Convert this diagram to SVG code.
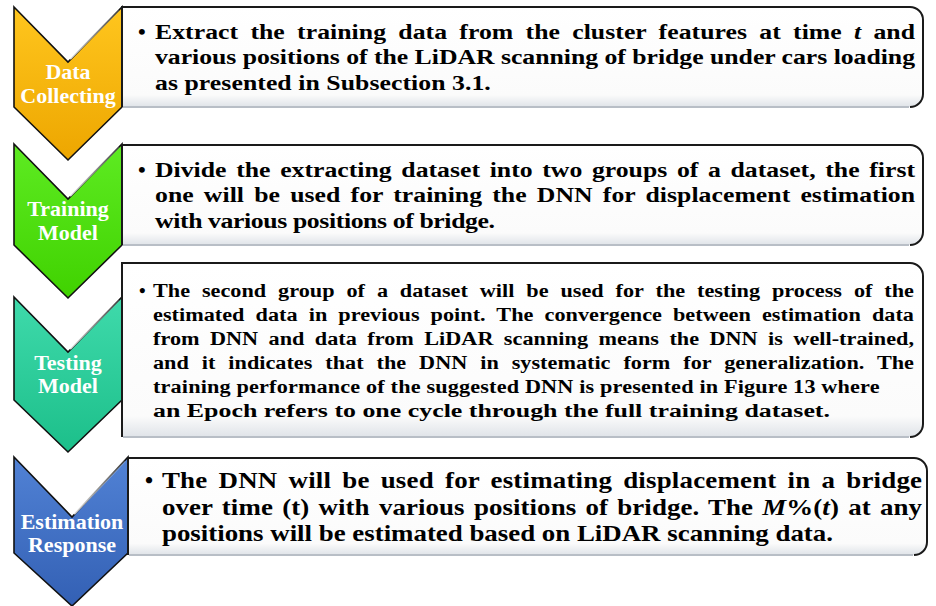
<svg xmlns="http://www.w3.org/2000/svg" width="936" height="606" viewBox="0 0 936 606">
<defs>
<linearGradient id="gY" x1="0" y1="0" x2="0" y2="1"><stop offset="0" stop-color="#FFC61E"/><stop offset="1" stop-color="#EDA600"/></linearGradient>
<linearGradient id="gG" x1="0" y1="0" x2="0" y2="1"><stop offset="0" stop-color="#5EEB22"/><stop offset="1" stop-color="#40D200"/></linearGradient>
<linearGradient id="gT" x1="0" y1="0" x2="0" y2="1"><stop offset="0" stop-color="#3FDAAB"/><stop offset="1" stop-color="#1CBF8A"/></linearGradient>
<linearGradient id="gB" x1="0" y1="0" x2="0" y2="1"><stop offset="0" stop-color="#5182D5"/><stop offset="1" stop-color="#3360B4"/></linearGradient>
<linearGradient id="gBox" x1="0" y1="0" x2="0" y2="1"><stop offset="0" stop-color="#ffffff"/><stop offset="0.88" stop-color="#fbfbfb"/><stop offset="1" stop-color="#dfe3e8"/></linearGradient>
<linearGradient id="gGloss" x1="0" y1="1" x2="1" y2="0"><stop offset="0" stop-color="#ffffff" stop-opacity="0.85"/><stop offset="1" stop-color="#ffffff" stop-opacity="0.2"/></linearGradient>
</defs>
<style>
.chev{stroke:#111;stroke-width:1.6;stroke-linejoin:miter}
.gloss{fill:none;stroke:url(#gGloss);stroke-width:2.2}
.lbl{font-family:"Liberation Serif","Times New Roman",serif;font-weight:bold;font-size:22px;fill:#ffffff;text-anchor:middle}
.boxfill{fill:url(#gBox)}
.boxedge{fill:none;stroke:#1a1a1a;stroke-width:2}
.boxbot{stroke:#b8bec6;stroke-width:2}
.t{font-family:"Liberation Serif","Times New Roman",serif;font-weight:bold;fill:#000}
.b1{font-size:22px}
.b3{font-size:19px}
.b4{font-size:23px}
.it{font-style:italic}
</style>

<g id="connectors"></g>

<g id="step1">
<polygon class="chev" fill="url(#gY)" points="14,7 68,62 122,7 122,107 68,160 14,107"/>
<polyline class="gloss" points="70,59 119,10"/>
<text class="lbl" x="68" y="79">Data</text>
<text class="lbl" x="68" y="103">Collecting</text>
</g>
<g id="box1">
<path class="boxfill" d="M122,7 H910 A13,13 0 0 1 923,20 V94 A13,13 0 0 1 910,107 H122 Z"/>
<path class="boxedge" d="M122,107 V7 H910 A13,13 0 0 1 923,20 V94 A13,13 0 0 1 910,107"/>
<line class="boxbot" x1="123" y1="107" x2="909" y2="107"/>
<text class="t b1" x="138" y="39">•</text>
<g transform="translate(155,0) scale(1.17,1)">
<text class="t b1" x="0" y="39" word-spacing="4.9" textLength="649.6" lengthAdjust="spacing">Extract the training data from the cluster features at time <tspan class="it">t</tspan> and</text>
<text class="t b1" x="0" y="64.5" textLength="649.6" lengthAdjust="spacing">various positions of the LiDAR scanning of bridge under cars loading</text>
<text class="t b1" x="0" y="90" textLength="287" lengthAdjust="spacing">as presented in Subsection 3.1.</text>
</g>
</g>

<g id="step2">
<polygon class="chev" fill="url(#gG)" points="14,144 68,199 122,144 122,245 68,298 14,245"/>
<polyline class="gloss" points="70,196 119,147"/>
<text class="lbl" x="68" y="216">Training</text>
<text class="lbl" x="68" y="240">Model</text>
</g>
<g id="box2">
<path class="boxfill" d="M122,145 H910 A13,13 0 0 1 923,158 V232 A13,13 0 0 1 910,245 H122 Z"/>
<path class="boxedge" d="M122,245 V145 H910 A13,13 0 0 1 923,158 V232 A13,13 0 0 1 910,245"/>
<line class="boxbot" x1="123" y1="245" x2="909" y2="245"/>
<text class="t b1" x="138" y="177">•</text>
<g transform="translate(155,0) scale(1.17,1)">
<text class="t b1" x="0" y="177" word-spacing="2.7" textLength="649.6" lengthAdjust="spacing">Divide the extracting dataset into two groups of a dataset, the first</text>
<text class="t b1" x="0" y="202.5" word-spacing="3.2" textLength="649.6" lengthAdjust="spacing">one will be used for training the DNN for displacement estimation</text>
<text class="t b1" x="0" y="228" textLength="290.6" lengthAdjust="spacing">with various positions of bridge.</text>
</g>
</g>

<g id="step3">
<polygon class="chev" fill="url(#gT)" points="14,297 68,352 122,297 122,400 68,452 14,400"/>
<polyline class="gloss" points="70,349 119,300"/>
<text class="lbl" x="68" y="370">Testing</text>
<text class="lbl" x="68" y="393">Model</text>
</g>
<g id="box3">
<path class="boxfill" d="M122,263 H910 A13,13 0 0 1 923,276 V424 A13,13 0 0 1 910,437 H122 Z"/>
<path class="boxedge" d="M122,437 V263 H910 A13,13 0 0 1 923,276 V424 A13,13 0 0 1 910,437"/>
<line class="boxbot" x1="123" y1="437" x2="909" y2="437"/>
<text class="t b3" x="139" y="297">•</text>
<g transform="translate(153,0) scale(1.17,1)">
<text class="t b3" x="0" y="297" word-spacing="5.4" textLength="650.4" lengthAdjust="spacing">The second group of a dataset will be used for the testing process of the</text>
<text class="t b3" x="0" y="321" word-spacing="4.7" textLength="650.4" lengthAdjust="spacing">estimated data in previous point. The convergence between estimation data</text>
<text class="t b3" x="0" y="345" word-spacing="4.1" textLength="650.4" lengthAdjust="spacing">from DNN and data from LiDAR scanning means the DNN is well-trained,</text>
<text class="t b3" x="0" y="369" word-spacing="6.3" textLength="650.4" lengthAdjust="spacing">and it indicates that the DNN in systematic form for generalization. The</text>
<text class="t b3" x="0" y="393" textLength="621" lengthAdjust="spacing">training performance of the suggested DNN is presented in Figure 13 where</text>
<text class="t b3" x="0" y="417" textLength="578.6" lengthAdjust="spacingAndGlyphs">an Epoch refers to one cycle through the full training dataset.</text>
</g>
</g>

<g id="step4">
<polygon class="chev" fill="url(#gB)" points="14,457 72,517 128,457 128,553 72,606 14,553"/>
<polyline class="gloss" points="74,514 125,461"/>
<text class="lbl" x="72" y="529">Estimation</text>
<text class="lbl" x="72" y="552">Response</text>
</g>
<g id="box4">
<path class="boxfill" d="M128,458 H914 A13,13 0 0 1 927,471 V542 A13,13 0 0 1 914,555 H128 Z"/>
<path class="boxedge" d="M128,555 V458 H914 A13,13 0 0 1 927,471 V542 A13,13 0 0 1 914,555"/>
<line class="boxbot" x1="129" y1="555" x2="913" y2="555"/>
<text class="t b4" x="145" y="488">•</text>
<g transform="translate(162,0) scale(1.17,1)">
<text class="t b4" x="0" y="488" word-spacing="3.6" textLength="649.6" lengthAdjust="spacing">The DNN will be used for estimating displacement  in a bridge</text>
<text class="t b4" x="0" y="515" word-spacing="2.1" textLength="649.6" lengthAdjust="spacing">over time (t) with various positions of bridge. The <tspan class="it">M</tspan>%(<tspan class="it">t</tspan>) at any</text>
<text class="t b4" x="0" y="541" textLength="573.5" lengthAdjust="spacing">positions will be estimated based on LiDAR scanning data.</text>
</g>
</g>
</svg>
